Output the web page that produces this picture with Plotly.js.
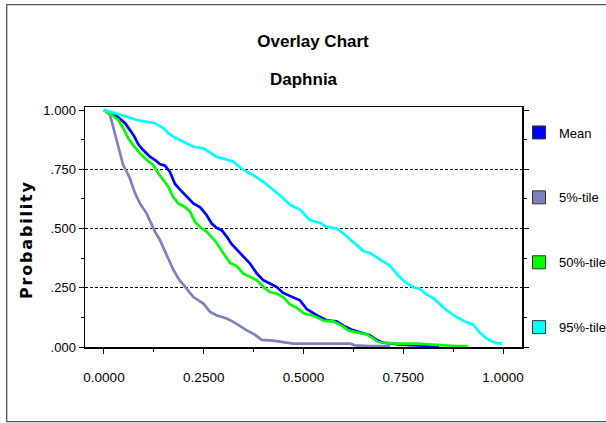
<!DOCTYPE html>
<html>
<head>
<meta charset="utf-8">
<script src="https://cdn.plot.ly/plotly-3.0.1.min.js"></script>
<style>
html,body{margin:0;padding:0;background:#fff;overflow:hidden}
#chart{width:606px;height:423px}
.annotation[data-index="1"] text{letter-spacing:1.8px;font-weight:bold !important}
</style>
</head>
<body>
<div id="chart"></div>
<script>
// ---- data ----
const seriesNames = ["Mean", "5%-tile", "50%-tile", "95%-tile"];
const seriesColors = ["#0000FF", "#8080C0", "#00FF00", "#00FFFF"];

const xMean = [0, 0.028, 0.053, 0.061, 0.074, 0.086, 0.098, 0.115, 0.128, 0.140, 0.153, 0.165, 0.178, 0.190, 0.207, 0.224, 0.241, 0.257, 0.270, 0.282, 0.295, 0.308, 0.320, 0.333, 0.349, 0.366, 0.383, 0.399, 0.416, 0.433, 0.449, 0.470, 0.491, 0.508, 0.533, 0.558, 0.583, 0.600, 0.625, 0.650, 0.667, 0.683, 0.700, 0.725, 0.742, 0.784, 0.825, 0.840];
const yMean = [1.0, 0.979, 0.944, 0.923, 0.894, 0.855, 0.831, 0.803, 0.789, 0.772, 0.765, 0.740, 0.688, 0.665, 0.634, 0.606, 0.589, 0.557, 0.521, 0.503, 0.493, 0.465, 0.434, 0.411, 0.380, 0.352, 0.310, 0.282, 0.268, 0.253, 0.228, 0.211, 0.197, 0.160, 0.134, 0.113, 0.108, 0.090, 0.070, 0.058, 0.049, 0.030, 0.018, 0.014, 0.010, 0.007, 0.004, 0.0];

const xP5 = [0, 0.015, 0.023, 0.032, 0.040, 0.048, 0.057, 0.065, 0.078, 0.090, 0.107, 0.120, 0.128, 0.140, 0.153, 0.165, 0.174, 0.186, 0.199, 0.211, 0.224, 0.249, 0.266, 0.282, 0.307, 0.324, 0.341, 0.357, 0.378, 0.395, 0.424, 0.449, 0.474, 0.508, 0.566, 0.617, 0.629, 0.667, 0.717];
const yP5 = [1.0, 0.979, 0.929, 0.874, 0.817, 0.768, 0.739, 0.711, 0.648, 0.606, 0.563, 0.514, 0.486, 0.452, 0.401, 0.360, 0.325, 0.290, 0.262, 0.236, 0.211, 0.183, 0.148, 0.134, 0.120, 0.106, 0.086, 0.071, 0.052, 0.030, 0.027, 0.021, 0.014, 0.014, 0.014, 0.014, 0.007, 0.004, 0.004];

const xP50 = [0, 0.019, 0.036, 0.048, 0.061, 0.073, 0.090, 0.107, 0.123, 0.136, 0.148, 0.161, 0.173, 0.186, 0.203, 0.216, 0.228, 0.241, 0.257, 0.270, 0.282, 0.299, 0.316, 0.333, 0.349, 0.366, 0.383, 0.399, 0.416, 0.433, 0.449, 0.466, 0.483, 0.502, 0.525, 0.550, 0.575, 0.598, 0.612, 0.633, 0.658, 0.675, 0.687, 0.708, 0.733, 0.783, 0.817, 0.842, 0.883, 0.912];
const yP50 = [1.0, 0.979, 0.958, 0.923, 0.880, 0.852, 0.817, 0.789, 0.768, 0.733, 0.704, 0.676, 0.634, 0.606, 0.591, 0.570, 0.528, 0.505, 0.487, 0.462, 0.440, 0.396, 0.355, 0.340, 0.310, 0.296, 0.282, 0.253, 0.232, 0.225, 0.211, 0.180, 0.165, 0.141, 0.132, 0.111, 0.107, 0.088, 0.070, 0.062, 0.054, 0.035, 0.021, 0.017, 0.014, 0.014, 0.011, 0.007, 0.004, 0.004];

const xP95 = [0, 0.032, 0.057, 0.082, 0.107, 0.128, 0.149, 0.161, 0.174, 0.190, 0.207, 0.224, 0.249, 0.266, 0.282, 0.303, 0.324, 0.349, 0.374, 0.399, 0.424, 0.445, 0.466, 0.491, 0.516, 0.541, 0.558, 0.583, 0.600, 0.625, 0.650, 0.667, 0.690, 0.717, 0.735, 0.752, 0.775, 0.792, 0.807, 0.825, 0.842, 0.858, 0.883, 0.904, 0.925, 0.942, 0.959, 0.975, 0.988, 0.997];
const yP95 = [1.0, 0.986, 0.972, 0.958, 0.951, 0.944, 0.923, 0.902, 0.887, 0.873, 0.859, 0.845, 0.838, 0.820, 0.802, 0.793, 0.782, 0.747, 0.725, 0.697, 0.662, 0.634, 0.600, 0.580, 0.535, 0.524, 0.507, 0.500, 0.479, 0.444, 0.405, 0.396, 0.371, 0.342, 0.306, 0.278, 0.252, 0.245, 0.223, 0.206, 0.180, 0.155, 0.127, 0.108, 0.095, 0.060, 0.035, 0.021, 0.016, 0.014];

const xTickVals = [0, 0.25, 0.5, 0.75, 1.0];
const xTickLabels = ["0.0000", "0.2500", "0.5000", "0.7500", "1.0000"];
const yTickVals = [0, 0.25, 0.5, 0.75, 1.0];
const yTickLabels = [".000", ".250", ".500", ".750", "1.000"];
const gridVals = [0.25, 0.5, 0.75];

const chartTitle = "Overlay Chart";
const chartSubtitle = "Daphnia";
const yTitle = "Probability";

// ---- build ----
const FONT = "Arial, 'Liberation Sans', sans-serif";
const xs = [xMean, xP5, xP50, xP95];
const ys = [yMean, yP5, yP50, yP95];
const traces = [];
for (let i = 0; i < 4; i++) {
  traces.push({
    type: "scatter", mode: "lines", x: xs[i], y: ys[i],
    name: seriesNames[i], legendgroup: "g" + i, showlegend: false,
    line: {color: seriesColors[i], width: 2.7}, hoverinfo: "skip"
  });
}
for (let i = 0; i < 4; i++) {
  traces.push({
    type: "scatter", mode: "markers", x: [null], y: [null],
    name: seriesNames[i], legendgroup: "g" + i, showlegend: true,
    marker: {symbol: "square", size: 13, color: seriesColors[i], line: {color: "#333", width: 1}}
  });
}
// invisible trace carrying the dashed grid axis
traces.push({type: "scatter", mode: "lines", x: [null], y: [null], yaxis: "y2", showlegend: false, hoverinfo: "skip"});

const layout = {
  width: 606, height: 423,
  margin: {l: 85, r: 84, t: 107, b: 76, autoexpand: false},
  paper_bgcolor: "#fff", plot_bgcolor: "#fff",
  font: {family: FONT, color: "#000", size: 13},
  showlegend: true,
  title: {text: chartTitle, x: 313 / 606, xanchor: "center", xref: "container",
          y: 1 - 41 / 423, yanchor: "middle", yref: "container",
          font: {family: FONT, size: 17, weight: "bold", color: "#000"}},
  xaxis: {
    range: [-0.0476, 1.0476], tickvals: xTickVals, ticktext: xTickLabels,
    ticks: "outside", ticklen: 5, tickwidth: 1, tickcolor: "#000",
    minor: {dtick: 0.125, tick0: 0, ticks: "outside", ticklen: 3, tickwidth: 1, tickcolor: "#000", showgrid: false},
    showline: true, linecolor: "#000", linewidth: 1.5, mirror: true,
    showgrid: false, zeroline: false, ticklabelstandoff: 12,
    tickfont: {family: FONT, size: 13.5, color: "#000"}, fixedrange: true
  },
  yaxis: {
    range: [0, 1.0127], tickvals: yTickVals, ticktext: yTickLabels,
    ticks: "outside", ticklen: 5, tickwidth: 1, tickcolor: "#000",
    minor: {dtick: 0.125, tick0: 0, ticks: "outside", ticklen: 3, tickwidth: 1, tickcolor: "#000", showgrid: false},
    showline: true, linecolor: "#000", linewidth: 1.5, mirror: "ticks",
    showgrid: false, zeroline: false, ticklabelstandoff: 0,
    tickfont: {family: FONT, size: 13, color: "#000"}, fixedrange: true
  },
  yaxis2: {
    overlaying: "y", side: "left", range: [0, 1.0127], tickvals: gridVals,
    showticklabels: false, ticks: "", showline: false, zeroline: false,
    showgrid: true, gridcolor: "#000", gridwidth: 1.1, griddash: "3px,2px", fixedrange: true
  },
  legend: {
    x: (519 - 85) / 437, xanchor: "left", y: (347 - 117.5) / 240, yanchor: "top",
    bgcolor: "rgba(0,0,0,0)", borderwidth: 0, tracegroupgap: 45,
    font: {family: FONT, size: 13, color: "#000"}, itemclick: false, itemdoubleclick: false
  },
  annotations: [
    {text: chartSubtitle, xref: "paper", yref: "paper", x: (304 - 85) / 437, y: (347 - 79.5) / 240,
     xanchor: "center", yanchor: "middle", showarrow: false,
     font: {family: FONT, size: 17, weight: "bold", color: "#000"}},
    {text: "<b>" + yTitle + "</b>", xref: "paper", yref: "paper", x: (26 - 85) / 437, y: (347 - 239) / 240,
     xanchor: "center", yanchor: "middle", showarrow: false, textangle: -90,
     font: {family: "'DejaVu Sans', sans-serif", size: 16, weight: "bold", color: "#000"}}
  ],
  shapes: [
    {type: "rect", xref: "paper", yref: "paper",
     x0: (6.7 - 85) / 437, x1: (640 - 85) / 437, y0: (347 - 421.7) / 240, y1: (347 - 4.7) / 240,
     line: {color: "#555", width: 1.3}, fillcolor: "rgba(0,0,0,0)", layer: "below"}
  ]
};

Plotly.newPlot("chart", traces, layout, {staticPlot: true, displayModeBar: false});
</script>
</body>
</html>
